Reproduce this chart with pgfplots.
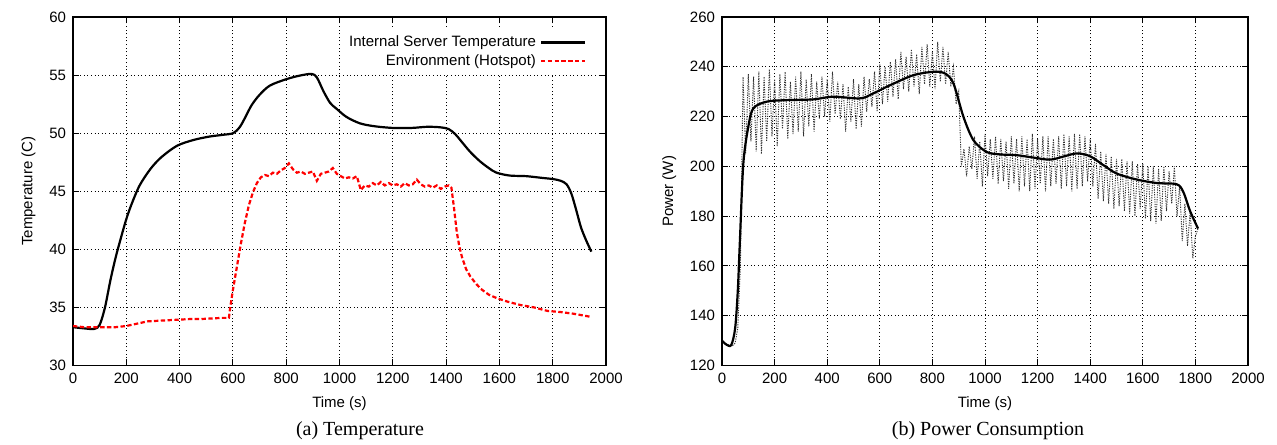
\documentclass[border=0pt]{standalone}
\usepackage{fontspec}
\setmainfont{Liberation Serif}
\newfontfamily\hv{Liberation Sans}
\usepackage{pgfplots}
\pgfplotsset{compat=1.18}

\pgfplotsset{
  gp/.style={
    scale only axis,
    height=174.25pt,
    font=\hv\fontsize{7.5}{9}\selectfont,
    tick label style={font=\hv\fontsize{7.5}{9}\selectfont},
    /pgf/number format/assume math mode=true,
    /pgf/number format/1000 sep={},
    axis line style={line width=0.8pt},
    tick align=inside,
    tick pos=both,
    major tick length=3pt,
    tick style={black, line width=0.5pt},
    grid=major,
    major grid style={black, line width=0.45pt, dash pattern=on 0.5pt off 1.3pt},
    xmin=0, xmax=2000,
    xtick={0,200,...,2000},
    xlabel={Time (s)},
  }
}

\begin{document}
\begin{tikzpicture}
\path[use as bounding box] (0,0) rectangle (638.5pt,222pt);

% (a) temperature
\begin{axis}[gp,
  at={(36.5pt,39.25pt)}, anchor=south west,
  width=266.5pt,
  ymin=30, ymax=60, ytick={30,35,...,60},
  ylabel={Temperature (C)},
  legend style={at={(0.968,0.965)}, anchor=north east, draw=none, fill=white,
    font=\hv\fontsize{7.5}{9}\selectfont, row sep=-1.5pt, inner sep=1pt},
  legend cell align=right,
  legend plot pos=right,
  legend image code/.code={\draw[#1] (0cm,0cm) -- (0.78cm,0cm);},
]
\addplot[black, line width=1.1pt, smooth, tension=0.5] coordinates {
(0,33.3) (40,33.2) (80,33.15) (100,33.5) (120,35.0) (140,37.3) (160,39.3)
(180,41.0) (200,42.6) (220,43.9) (250,45.5) (290,46.9) (330,47.9) (389,48.9)
(450,49.4) (510,49.7) (560,49.85) (601,50.0) (625,50.5) (645,51.3) (670,52.4)
(700,53.3) (739,54.1) (801,54.65) (850,54.95) (895,55.1) (915,54.8) (940,53.6)
(965,52.6) (989,52.1) (1026,51.4) (1076,50.85) (1130,50.6) (1200,50.45)
(1270,50.45) (1330,50.55) (1380,50.5) (1410,50.35) (1435,49.9) (1457,49.3)
(1490,48.4) (1526,47.6) (1560,47.0) (1589,46.6) (1639,46.35) (1700,46.3)
(1760,46.15) (1801,46.05) (1830,45.9) (1852,45.6) (1870,44.8) (1888,43.4)
(1906,41.9) (1925,40.8) (1945,39.8)
};
\addlegendentry{Internal Server Temperature}
\addplot[red, line width=1.1pt, dash pattern=on 2.2pt off 1.2pt] coordinates {
(0,33.4) (40,33.3) (80,33.3) (120,33.3) (160,33.3) (200,33.4) (240,33.6)
(280,33.8) (320,33.85) (360,33.9) (400,33.95) (440,34.0) (480,34.0) (520,34.05)
(560,34.1) (585,34.1) (590,35.0) (600,36.5) (615,38.5) (630,40.5) (645,42.3)
(660,43.8) (675,44.9) (690,45.7) (705,46.2) (720,46.4) (735,46.3) (750,46.6)
(765,46.5) (780,46.8) (795,47.0) (810,47.4) (825,46.9) (840,46.6) (855,46.7)
(870,46.5) (885,46.6) (900,46.7) (915,45.9) (930,46.5) (945,46.6) (960,46.7)
(975,47.0) (990,46.5) (1005,46.3) (1020,46.1) (1035,46.2) (1050,46.1) (1065,46.3)
(1080,45.1) (1095,45.5) (1110,45.4) (1125,45.7) (1140,45.5) (1155,45.8)
(1170,45.5) (1185,45.7) (1200,45.5) (1215,45.6) (1230,45.4) (1245,45.7)
(1260,45.5) (1275,45.6) (1290,46.0) (1305,45.6) (1320,45.4) (1335,45.5)
(1350,45.3) (1365,45.5) (1380,45.2) (1395,45.4) (1410,45.5) (1420,45.3)
(1430,43.5) (1440,41.5) (1450,40.2) (1460,39.3) (1475,38.3) (1490,37.7)
(1510,37.1) (1530,36.6) (1560,36.1) (1590,35.8) (1630,35.5) (1680,35.2)
(1730,35.0) (1780,34.7) (1830,34.6) (1880,34.45) (1940,34.2)
};
\addlegendentry{Environment (Hotspot)}
\end{axis}

% (b) power
\begin{axis}[gp,
  at={(361pt,39.25pt)}, anchor=south west,
  width=263pt,
  ymin=120, ymax=260, ytick={120,140,...,260},
  ylabel={Power (W)},
]
\addplot[black!80, line width=0.45pt, dash pattern=on 0.6pt off 0.6pt] coordinates {
(0,130) (10,129) (20,128.5) (30,128) (40,128) (50,129) (60,135) (70,160)
(80,236) (90,205) (100,237) (110,210) (120,236) (130,206) (140,238) (150,205)
(160,236) (170,210) (180,239) (190,212) (200,235) (210,208) (220,237) (230,215)
(240,238) (250,211) (260,234) (270,213) (280,236) (290,214) (300,238) (310,212)
(320,235) (330,216) (340,237) (350,214) (360,234) (370,219) (380,236) (390,220)
(400,235) (410,218) (420,238) (430,221) (440,234) (450,219) (460,233) (470,214)
(480,232) (490,218) (500,235) (510,215) (520,233) (530,216) (540,236) (550,222)
(560,235) (570,224) (580,238) (590,222) (600,241) (610,225) (620,240) (630,226)
(640,242) (650,228) (660,243) (670,227) (680,246) (690,231) (700,244) (710,230)
(720,247) (730,232) (740,245) (750,229) (760,248) (770,233) (780,249) (790,232)
(800,246) (810,231) (820,250) (830,234) (840,248) (850,233) (860,246) (870,232)
(880,240) (890,225) (900,230) (910,200) (920,207) (930,196) (940,208) (950,199)
(960,212) (970,195) (980,210) (990,192) (1000,213) (1010,196) (1020,211) (1030,195)
(1040,212) (1050,193) (1060,211) (1070,194) (1080,210) (1090,191) (1100,212)
(1110,193) (1120,211) (1130,190) (1140,212) (1150,192) (1160,211) (1170,190)
(1180,213) (1190,191) (1200,211) (1210,193) (1220,212) (1230,190) (1240,212)
(1250,192) (1260,211) (1270,193) (1280,212) (1290,191) (1300,213) (1310,192)
(1320,212) (1330,190) (1340,213) (1350,191) (1360,213) (1370,192) (1380,212)
(1390,194) (1400,211) (1410,192) (1420,209) (1430,187) (1440,206) (1450,186)
(1460,205) (1470,185) (1480,204) (1490,183) (1500,203) (1510,184) (1520,203)
(1530,182) (1540,202) (1550,181) (1560,202) (1570,180) (1580,201) (1590,183)
(1600,201) (1610,179) (1620,200) (1630,178) (1640,200) (1650,177) (1660,199)
(1670,178) (1680,200) (1690,182) (1700,198) (1710,185) (1720,200) (1730,180)
(1740,192) (1750,170) (1760,185) (1770,168) (1780,182) (1790,163) (1800,172)
(1810,175)
};
\addplot[black, line width=1.1pt, smooth, tension=0.5] coordinates {
(0,130) (15,128.5) (35,128.2) (50,135) (60,150) (68,170) (81,201) (100,215.9)
(119,223.3) (170,226) (246,226.6) (347,226.9) (423,228) (525,227.3) (575,229.3)
(639,232.6) (727,236.6) (805,238) (848,237.3) (880,233.3) (918,219.9) (956,210.5)
(1006,205.8) (1057,204.8) (1120,204.5) (1180,203.6) (1247,202.7) (1300,204.0)
(1349,205.2) (1399,204.1) (1450,200.5) (1501,197.1) (1577,194.7) (1653,193.3)
(1729,192.8) (1754,189.7) (1780,182) (1810,175)
};
\end{axis}

\node[font=\fontsize{10}{12}\selectfont] at (180pt,6.5pt) {(a) Temperature};
\node[font=\fontsize{10}{12}\selectfont] at (494pt,6.5pt) {(b) Power Consumption};
\end{tikzpicture}
\end{document}
